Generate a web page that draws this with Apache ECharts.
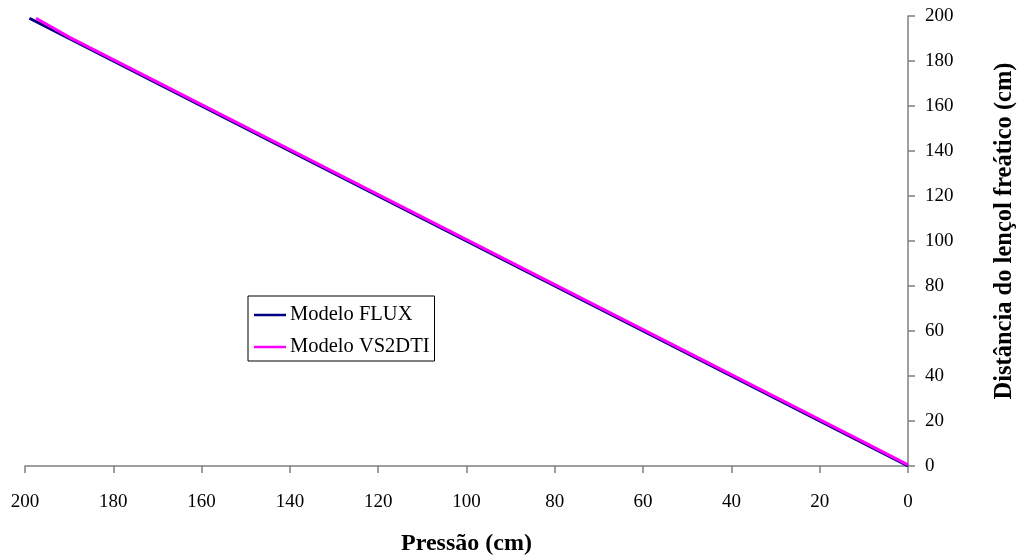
<!DOCTYPE html>
<html>
<head>
<meta charset="utf-8">
<script src="https://cdn.jsdelivr.net/npm/echarts@6/dist/echarts.min.js"></script>
<style>html,body{margin:0;padding:0;background:#fff;}#c{width:1019px;height:555px;}</style>
</head>
<body>
<div id="c"></div>
<script>
var xTicks = [0, 20, 40, 60, 80, 100, 120, 140, 160, 180, 200];
var yTicks = [0, 20, 40, 60, 80, 100, 120, 140, 160, 180, 200];
var seriesNames = ['Modelo FLUX', 'Modelo VS2DTI'];
// [pressão (cm), distância (cm)]
var fluxData = [[0,0],[10,10],[20,20],[30,30],[40,40],[50,50],[60,60],[70,70],[80,80],[90,90],[100,100],[110,110],[120,120],[130,130],[140,140],[150,150],[160,160],[170,170],[180,180],[190,190],[199,199]];
var vs2dtiData = [[0,0.5],[10,10.6],[20,20.6],[30,30.6],[40,40.6],[50,50.6],[60,60.6],[70,70.6],[80,80.6],[90,90.6],[100,100.6],[110,110.6],[120,120.6],[130,130.6],[140,140.6],[150,150.6],[160,160.6],[170,170.6],[180,180.6],[190,190.6],[197.5,199]];

var chart = echarts.init(document.getElementById('c'), null, {renderer: 'canvas'});
var font = '"Liberation Serif", "Times New Roman", serif';
chart.setOption({
  animation: false,
  backgroundColor: '#fff',
  textStyle: {fontFamily: font},
  grid: {left: 25, right: 111, top: 16, bottom: 89, containLabel: false, outerBoundsMode: 'none'},
  legend: {
    orient: 'vertical',
    left: 248, top: 296,
    data: seriesNames,
    icon: 'rect',
    borderColor: '#000', borderWidth: 1,
    padding: [8.5, 5, 3.5, 6],
    itemWidth: 32, itemHeight: 2.5, itemGap: 11,
    textStyle: {fontFamily: font, fontSize: 20.5, lineHeight: 20, color: '#000', padding: [0,0,0,-1]}
  },
  xAxis: {
    type: 'value', inverse: true, min: 0, max: 200, interval: 20,
    name: 'Pressão (cm)', nameLocation: 'middle', nameGap: 66,
    nameTextStyle: {fontFamily: font, fontSize: 24, fontWeight: 'bold', color: '#000'},
    axisLine: {show: true, onZero: false, lineStyle: {color: '#7f7f7f', width: 1.5}},
    axisTick: {show: true, length: 7, lineStyle: {color: '#7f7f7f', width: 1.5}},
    axisLabel: {fontFamily: font, fontSize: 19, color: '#000', margin: 27,
      formatter: function(v){ return xTicks.indexOf(v) >= 0 ? String(v) : ''; }},
    splitLine: {show: false}
  },
  yAxis: {
    type: 'value', position: 'right', min: 0, max: 200, interval: 20,
    name: 'Distância do lençol freático (cm)', nameLocation: 'middle', nameGap: 84, nameRotate: 90,
    nameTextStyle: {fontFamily: font, fontSize: 24.5, fontWeight: 'bold', color: '#000', padding: [0, 0, 0, 20]},
    axisLine: {show: true, onZero: false, lineStyle: {color: '#7f7f7f', width: 1.5}},
    axisTick: {show: true, length: 7, lineStyle: {color: '#7f7f7f', width: 1.5}},
    axisLabel: {fontFamily: font, fontSize: 19, color: '#000', margin: 17,
      formatter: function(v){ return yTicks.indexOf(v) >= 0 ? String(v) : ''; }},
    splitLine: {show: false}
  },
  series: [
    {name: seriesNames[0], type: 'line', data: fluxData, symbol: 'none', smooth: false,
     lineStyle: {color: '#000080', width: 3}, itemStyle: {color: '#000080'}},
    {name: seriesNames[1], type: 'line', data: vs2dtiData, symbol: 'none', smooth: false,
     lineStyle: {color: '#ff00ff', width: 3}, itemStyle: {color: '#ff00ff'}}
  ]
});
</script>
</body>
</html>
